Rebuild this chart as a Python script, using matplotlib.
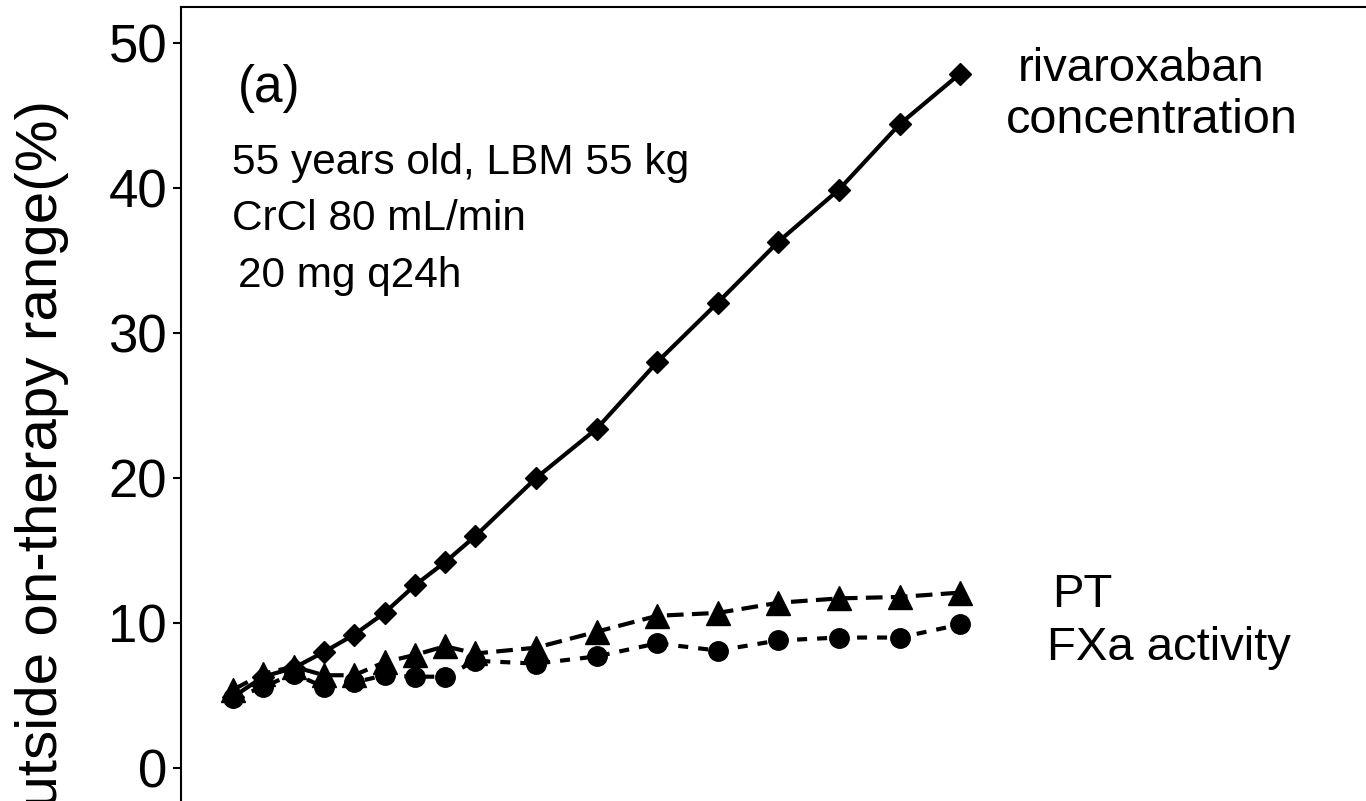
import matplotlib
matplotlib.use('Agg')
from matplotlib import pyplot as plt

plt.rcParams['font.family'] = ['Liberation Sans', 'DejaVu Sans']

# sampling points and % of subjects outside the on-therapy range
days = [1, 2, 3, 4, 5, 6, 7, 8, 9, 11, 13, 15, 17, 19, 21, 23, 25]
rivaroxaban = [4.9, 6.3, 6.9, 8.0, 9.2, 10.7, 12.6, 14.2, 16.0, 20.0,
               23.4, 28.0, 32.1, 36.3, 39.9, 44.4, 47.9]
pt = [5.4, 6.5, 7.0, 6.4, 6.4, 7.3, 7.8, 8.4, 7.9, 8.3,
      9.4, 10.5, 10.7, 11.4, 11.7, 11.8, 12.1]
fxa = [4.8, 5.6, 6.5, 5.6, 5.9, 6.4, 6.3, 6.3, 7.4, 7.2,
       7.7, 8.6, 8.1, 8.8, 9.0, 9.0, 9.9]

yticks = [0, 10, 20, 30, 40, 50]

fig = plt.figure(figsize=(13.66, 8.01), dpi=100)
ax = fig.add_axes([0.1325, -0.0041, 0.9032, 0.9956])

ax.plot(days, fxa, color='black', lw=3, dashes=(2.4, 2.4),
        marker='o', markersize=14)
ax.plot(days, pt, color='black', lw=3, dashes=(4.0, 2.0),
        marker='^', markersize=17)
ax.plot(days, rivaroxaban, color='black', lw=3, ls='-',
        marker='D', markersize=11)

ax.set_xlim(-0.716, 40)
ax.set_ylim(-2.5, 52.5)
ax.set_yticks(yticks)
ax.tick_params(axis='y', labelsize=38, length=6, width=1.5, pad=4)
ax.tick_params(axis='x', bottom=False, labelbottom=False)
for s in ax.spines.values():
    s.set_linewidth(1.5)

ax.text(1.165, 46.9, '(a)', fontsize=37, ha='left', va='center')
ax.text(0.967, 41.0, '55 years old, LBM 55 kg', fontsize=30.5, va='baseline')
ax.text(0.967, 37.1, 'CrCl 80 mL/min', fontsize=30.5, va='baseline')
ax.text(1.165, 33.2, '20 mg q24h', fontsize=30.5, va='baseline')

ax.text(26.9, 47.4, 'rivaroxaban', fontsize=34, va='baseline')
ax.text(26.5, 43.8, 'concentration', fontsize=35, va='baseline')
ax.text(28.03, 11.1, 'PT', fontsize=34, va='baseline')
ax.text(27.86, 7.45, 'FXa activity', fontsize=34, va='baseline')

fig.text(0.031, 1 - 100 / 801, 'Probability outside on-therapy range(%)',
         rotation=90, fontsize=42, ha='center', va='top')

fig.savefig('out.png', dpi=100)
